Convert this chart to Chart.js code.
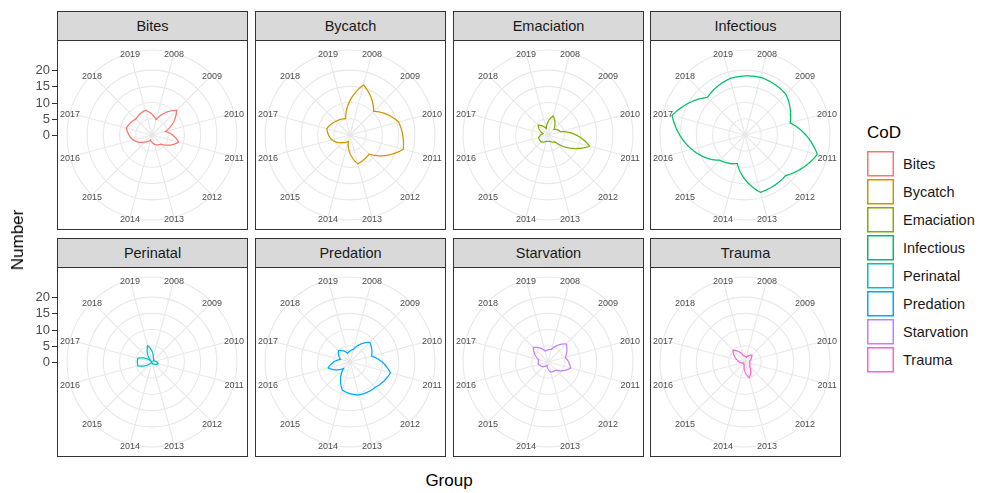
<!DOCTYPE html>
<html>
<head>
<meta charset="utf-8">
<script src="https://cdn.jsdelivr.net/npm/chart.js@4.4.1/dist/chart.umd.min.js"></script>
<style>
  html, body { margin: 0; padding: 0; background: #fff; }
  #fig { position: relative; width: 981px; height: 493px; overflow: hidden;
         font-family: "Liberation Sans", Arial, sans-serif; }
  .strip { position: absolute; box-sizing: border-box; border: 1px solid #333;
           background: #D9D9D9; color: #1A1A1A; font-size: 14.5px; text-align: center; line-height: 28px; }
  .panel { position: absolute; box-sizing: border-box; border: 1px solid #333; background: #fff; }
  canvas { position: absolute; }
  .title { position: absolute; font-size: 17px; color: #000; white-space: nowrap; }
  .klab { position: absolute; font-size: 14.5px; color: #1A1A1A; line-height: 16px; white-space: nowrap; }
</style>
</head>
<body>
<div id="fig"></div>
<script>
// Causes of death, counted per year
const years = ['2008','2009','2010','2011','2012','2013','2014','2015','2016','2017','2018','2019'];
const causes = ['Bites','Bycatch','Emaciation','Infectious','Perinatal','Predation','Starvation','Trauma'];
const colours = ['#F8766D','#CD9600','#7CAE00','#00BE67','#00BFC4','#00A9FF','#C77CFF','#FF61CC'];

const bites      = [4.9, 10.8, 4.2, 8.5, 4, 3, 1.5, 3, 6, 8.2, 7, 7.9];
const bycatch    = [16, 10.3, 15.5, 17, 8.3, 9.2, 2, 3.3, 5.8, 7.4, 6, 5.2];
const emaciation = [6.1, 2.5, 4, 13.3, 3, 2, 2, 3, 3, 1.5, 4.3, 2];
const infectious = [18.4, 17.8, 14.4, 23.1, 17.7, 18.3, 9.1, 11, 17, 23.3, 16.4, 18];
const perinatal  = [1.5, 0.5, 1, 2, 1, 0.5, 0, 0, 4.5, 4.5, 0, 5.2];
const predation  = [4, 8.6, 6.9, 12.9, 11, 10.5, 9, 2.7, 7, 3, 5, 2.8];
const starvation = [4, 7.9, 5.5, 7.2, 3.5, 3.2, 1, 2, 3, 3, 6.4, 3.5];
const trauma     = [1.5, 3, 1.5, 1.5, 2, 5, 1, 0.5, 1, 2.5, 5.2, 2];

const rTicks = [0, 5, 10, 15, 20];

const series = [bites, bycatch, emaciation, infectious, perinatal, predation, starvation, trauma];

// Radius: data range fills 0.4 of the panel, outer ring sits at 0.45
const dataMax = Math.max(...series.flat());
const rMax = dataMax * 0.45 / 0.4;

// Facet grid geometry
const colLeft = [57, 255, 453, 650];
const stripTop = [11, 238];
const PW = 191, SH = 30, PH = 190;

const fig = document.getElementById('fig');

// Polygon edges follow the polar coordinate system: angle and radius change together
const polarPath = {
  id: 'polarPath',
  afterDatasetsDraw(chart) {
    const s = chart.scales.r, ctx = chart.ctx;
    const STEPS = 40;
    chart.data.datasets.forEach(ds => {
      const v = ds.data, n = v.length;
      ctx.save();
      ctx.strokeStyle = ds.pathColour;
      ctx.lineWidth = 1.25;
      ctx.lineJoin = 'round';
      ctx.beginPath();
      for (let k = 0; k < n; k++) {
        const a = v[k], b = v[(k + 1) % n];
        for (let j = (k === 0 ? 0 : 1); j <= STEPS; j++) {
          const t = j / STEPS;
          const p = s.getPointPosition(k + t, s.getDistanceFromCenterForValue(a + (b - a) * t));
          if (k === 0 && j === 0) ctx.moveTo(p.x, p.y); else ctx.lineTo(p.x, p.y);
        }
      }
      ctx.closePath();
      ctx.stroke();
      ctx.restore();
    });
  }
};

// Year labels sit on the outer ring
const yearLabels = {
  id: 'yearLabels',
  afterDraw(chart) {
    const s = chart.scales.r, ctx = chart.ctx;
    ctx.save();
    ctx.font = '9px "Liberation Sans", Arial, sans-serif';
    ctx.fillStyle = '#4D4D4D';
    ctx.textAlign = 'center';
    ctx.textBaseline = 'middle';
    chart.data.labels.forEach((lab, i) => {
      const p = s.getPointPosition(i, s.drawingArea);
      ctx.fillText(lab, p.x, p.y + 2);
    });
    ctx.restore();
  }
};

// Radial axis drawn outside the left edge of the panel
function radialAxis(panelX) {
  return {
    id: 'radialAxis',
    afterDraw(chart) {
      const s = chart.scales.r, ctx = chart.ctx;
      ctx.save();
      ctx.font = '13px "Liberation Sans", Arial, sans-serif';
      ctx.fillStyle = '#4D4D4D';
      ctx.strokeStyle = '#333';
      ctx.lineWidth = 1;
      ctx.textAlign = 'right';
      ctx.textBaseline = 'middle';
      rTicks.forEach(v => {
        const y = s.yCenter - s.getDistanceFromCenterForValue(v);
        ctx.beginPath();
        ctx.moveTo(panelX - 5, Math.round(y) + 0.5);
        ctx.lineTo(panelX, Math.round(y) + 0.5);
        ctx.stroke();
        ctx.fillText(String(v), panelX - 7, y + 0.5);
      });
      ctx.restore();
    }
  };
}

causes.forEach((cause, k) => {
  const col = k % 4, row = Math.floor(k / 4);
  const L = colLeft[col], S = stripTop[row];

  const strip = document.createElement('div');
  strip.className = 'strip';
  Object.assign(strip.style, { left: L + 'px', top: S + 'px', width: PW + 'px', height: SH + 'px' });
  strip.textContent = cause;
  fig.appendChild(strip);

  const panel = document.createElement('div');
  panel.className = 'panel';
  Object.assign(panel.style, { left: L + 'px', top: (S + SH - 1) + 'px', width: PW + 'px', height: PH + 'px' });
  fig.appendChild(panel);

  const innerW = PW - 2, innerH = PH - 2;
  const extra = col === 0 ? L + 1 : 0;
  const cv = document.createElement('canvas');
  cv.width = innerW + extra;
  cv.height = innerH;
  Object.assign(cv.style, { left: (L + 1 - extra) + 'px', top: (S + SH) + 'px',
                            width: cv.width + 'px', height: cv.height + 'px' });
  fig.appendChild(cv);

  const plugins = [polarPath, yearLabels];
  if (col === 0) plugins.push(radialAxis(L));

  new Chart(cv, {
    type: 'radar',
    data: {
      labels: years,
      datasets: [{
        label: cause,
        data: series[k],
        pathColour: colours[k],
        borderColor: 'rgba(0,0,0,0)',
        backgroundColor: 'rgba(0,0,0,0)',
        borderWidth: 0,
        pointRadius: 0,
        fill: false
      }]
    },
    options: {
      responsive: false,
      animation: false,
      devicePixelRatio: 1,
      events: [],
      layout: { padding: { left: extra + 9, right: 10, top: 9, bottom: 9 } },
      plugins: { legend: { display: false }, tooltip: { enabled: false } },
      scales: {
        r: {
          min: 0,
          max: rMax,
          startAngle: 15,
          ticks: { display: false },
          pointLabels: { display: false },
          grid: { color: '#E8E8E8', lineWidth: 1.1, circular: true },
          angleLines: { color: '#E8E8E8', lineWidth: 1.1 },
          afterBuildTicks: (scale) => {
            scale.ticks = rTicks.concat([rMax]).map(value => ({ value }));
          }
        }
      }
    },
    plugins
  });
});

// Axis titles
const yTitle = document.createElement('div');
yTitle.className = 'title';
yTitle.textContent = 'Number';
Object.assign(yTitle.style, { left: '18px', top: '240px', transform: 'translate(-50%, -50%) rotate(-90deg)' });
fig.appendChild(yTitle);

const xTitle = document.createElement('div');
xTitle.className = 'title';
xTitle.textContent = 'Group';
Object.assign(xTitle.style, { left: '449px', top: '481px', transform: 'translate(-50%, -50%)' });
fig.appendChild(xTitle);

// Legend: title, outlined keys and labels
const lTitle = document.createElement('div');
lTitle.className = 'title';
lTitle.textContent = 'CoD';
Object.assign(lTitle.style, { left: '867px', top: '133px', transform: 'translateY(-50%)' });
fig.appendChild(lTitle);

const keyCanvas = document.createElement('canvas');
keyCanvas.width = 32;
keyCanvas.height = 28 * causes.length + 4;
Object.assign(keyCanvas.style, { left: '865px', top: '149px',
                                 width: keyCanvas.width + 'px', height: keyCanvas.height + 'px' });
fig.appendChild(keyCanvas);
const kctx = keyCanvas.getContext('2d');
kctx.lineWidth = 1.5;

causes.forEach((cause, k) => {
  kctx.strokeStyle = colours[k];
  kctx.strokeRect(2.75, 2.75 + 28 * k, 25.5, 24);
  const lab = document.createElement('div');
  lab.className = 'klab';
  lab.textContent = cause;
  Object.assign(lab.style, { left: '903px', top: (163.5 + 28 * k) + 'px', transform: 'translateY(-50%)' });
  fig.appendChild(lab);
});
</script>
</body>
</html>
